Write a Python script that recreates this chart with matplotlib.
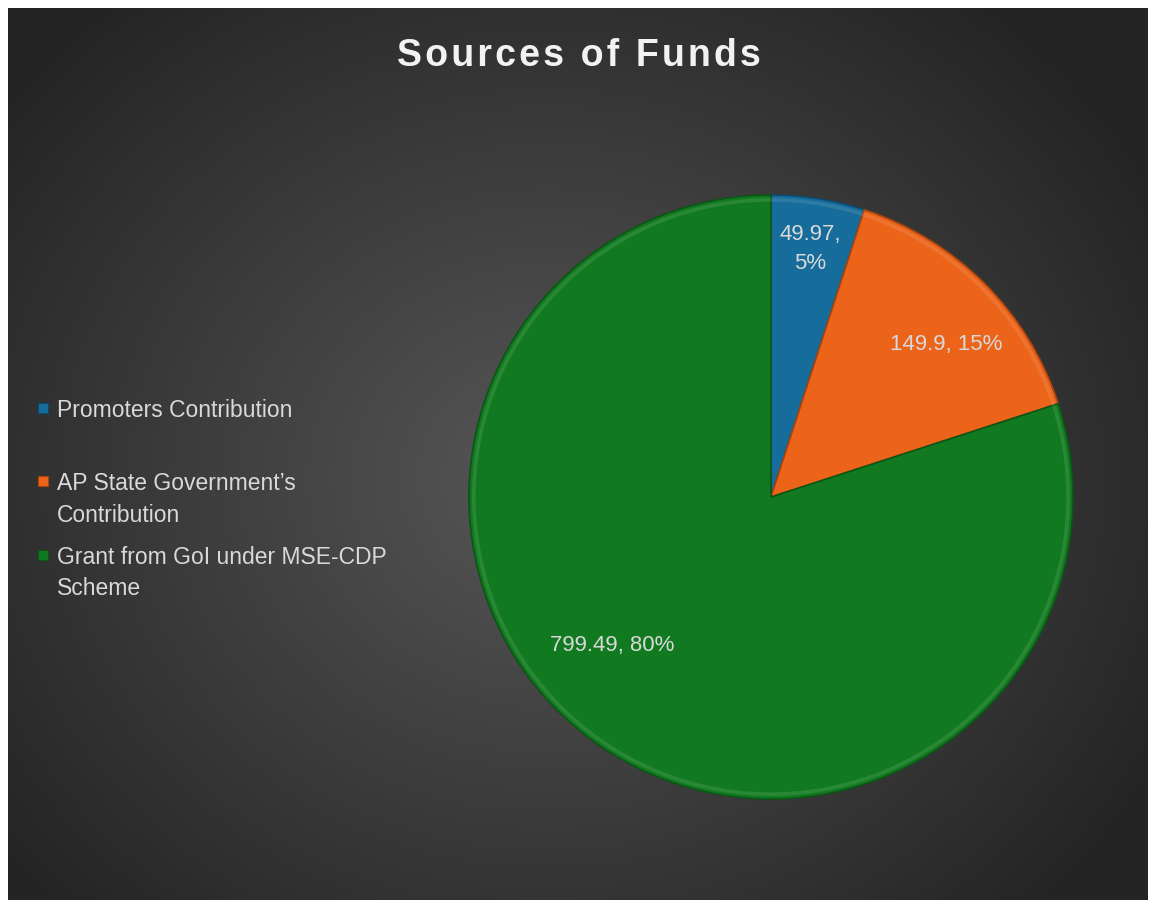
import matplotlib
matplotlib.use("Agg")
import matplotlib.pyplot as plt
import numpy as np
from matplotlib.patches import Rectangle

# data
labels = ["Promoters Contribution", "AP State Government’s Contribution",
          "Grant from GoI under MSE-CDP Scheme"]
legend_lines = ["Promoters Contribution", "AP State Government’s\nContribution",
                "Grant from GoI under MSE-CDP\nScheme"]
values = [49.97, 149.9, 799.49]
percents = [5, 15, 80]
colors = ["#166d9b", "#eb6419", "#117a20"]
edge_colors = ["#0d4a6c", "#a9440e", "#0b5515"]
title = "Sources of Funds"

W, H = 1149, 902
fig = plt.figure(figsize=(W / 100, H / 100), dpi=100)
fig.patch.set_facecolor("white")

# dark radial gradient background
bg = fig.add_axes([8 / W, 2 / H, 1140 / W, 892 / H])
yy, xx = np.mgrid[0:892, 0:1140]
d = np.hypot((xx - 540) / 700.0, (yy - 470) / 620.0)
shade = np.clip(0.34 - 0.2 * d, 0.145, 0.34)
bg.imshow(np.dstack([shade] * 3), aspect="auto", interpolation="bilinear")
bg.axis("off")

# pie
cx, cy, r = 771, 497, 302
ax = fig.add_axes([(cx - r) / W, (H - cy - r) / H, 2 * r / W, 2 * r / H])
wedges, _ = ax.pie(values, colors=colors, startangle=90, counterclock=False,
                   radius=1.0, wedgeprops=dict(linewidth=1.2))
for w, ec in zip(wedges, edge_colors):
    w.set_edgecolor(ec)
# soft bevel highlight along the rim
ax.pie(values, colors=["#ffffff"] * 3, startangle=90, counterclock=False,
       radius=0.99, wedgeprops=dict(width=0.012, alpha=0.1, linewidth=0))
ax.set_xlim(-1, 1)
ax.set_ylim(-1, 1)
ax.set_aspect("equal")
ax.axis("off")

# data labels
rad = [0.83, 0.77, 0.72]
nudge = [0, -4, -11]
for i, w in enumerate(wedges):
    ang = np.deg2rad((w.theta1 + w.theta2) / 2 + nudge[i])
    sep = ",\n" if percents[i] < 10 else ", "
    ax.text(rad[i] * np.cos(ang), rad[i] * np.sin(ang),
            f"{values[i]:g}{sep}{percents[i]}%", ha="center", va="center",
            color="#d9d9d9", fontsize=16, family="Liberation Sans",
            linespacing=1.5)

# legend
for i, (txt, c) in enumerate(zip(legend_lines, colors)):
    ymid = 408 + i * 73.5
    fig.patches.append(Rectangle((38 / W, 1 - (ymid + 5) / H), 10 / W, 10 / H,
                                 transform=fig.transFigure, facecolor=c,
                                 edgecolor=edge_colors[i], lw=0.8))
    fig.text(57 / W, 1 - (ymid - 13) / H - 4 / H, txt, ha="left", va="top",
             color="#d9d9d9", fontsize=16.5, family="Liberation Sans",
             linespacing=1.45)

spaced = "\u200a".join(title)
fig.text(579 / W, 1 - 56 / H, spaced, ha="center", va="center",
         color="#f2f2f2", fontsize=27, fontweight="bold",
         family=["Liberation Sans", "DejaVu Sans"])

fig.savefig("out.png", dpi=100, facecolor=fig.get_facecolor())
